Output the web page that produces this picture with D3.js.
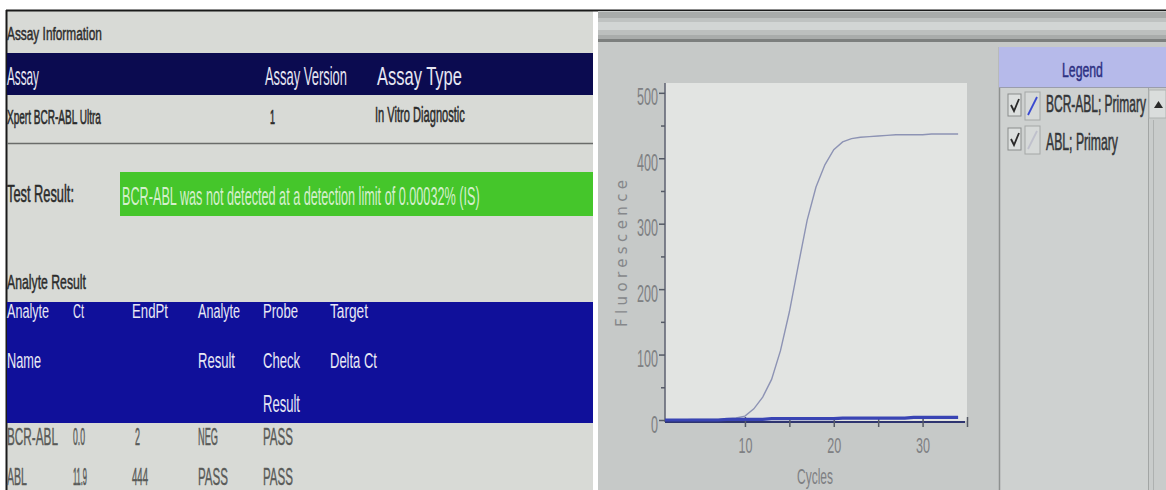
<!DOCTYPE html>
<html><head><meta charset="utf-8">
<script src="https://cdn.jsdelivr.net/npm/d3@7"></script>
<style>
html,body{margin:0;padding:0;background:#fff;}
svg{display:block;}
</style></head>
<body>
<svg id="c" width="1166" height="490"></svg>
<script>
// ---------- data ----------
const assayHeaders = ["Assay", "Assay Version", "Assay Type"];
const assayRow = ["Xpert BCR-ABL Ultra", "1", "In Vitro Diagnostic"];
const testResultText = "BCR-ABL was not detected at a detection limit of 0.00032% (IS)";
const analyteHeaders = [["Analyte","Name"],["Ct"],["EndPt"],["Analyte","Result"],["Probe","Check","Result"],["Target","Delta Ct"]];
const analyteRows = [
  ["BCR-ABL","0.0","2","NEG","PASS"],
  ["ABL","11.9","444","PASS","PASS"]
];
const cycles = [1,2,3,4,5,6,7,8,9,10,11,12,13,14,15,16,17,18,19,20,21,22,23,24,25,26,27,28,29,30,31,32,33,34];
const ablValues = [0,0,0,1,1,1,1,2,3,6,17,35,62,106,165,236,305,356,390,413,425,430,432,433,434,435,436,436,436,436,437,437,437,437];
const bcrAblValues = [0,0,0,0,0,0,0,1,1,1,1,1,2,2,2,2,2,2,2,2,3,3,3,3,3,3,3,3,4,4,4,4,4,4];
const yTicks = [0,100,200,300,400,500];
const yMinorTicks = [50,150,250,350,450];
const xTicks = [10,20,30];
const xMinorTicks = [15,25,35];
const legendLabels = ["BCR-ABL; Primary", "ABL; Primary"];
const seriesColors = ["#3944b4", "#8d93b4"];

// ---------- helpers ----------
const svg = d3.select("#c");
const NARROW = "'Liberation Sans Narrow','Liberation Sans',Arial,sans-serif";
function fit(t, width, size){
  t.attr("font-size", 20);
  const w = t.node().getComputedTextLength() || 1;
  const fs = 20 * width / w;
  t.attr("font-size", fs);
  return size / fs;
}
function txt(g, s, x, y, size, width, color, thick){
  const t = g.append("text").text(s)
    .attr("font-family", NARROW).attr("fill", color);
  const k = fit(t, width, size);
  t.attr("transform", `translate(${x},${y}) scale(1,${k})`);
  if (thick) t.attr("stroke", color).attr("stroke-width", thick);
  return t;
}

// ---------- left panel ----------
const L = svg.append("g");
L.append("rect").attr("x",0).attr("y",0).attr("width",1166).attr("height",490).attr("fill","#ffffff");
L.append("rect").attr("x",7).attr("y",11).attr("width",586).attr("height",479).attr("fill","#d8dad6");
L.append("line").attr("x1",6).attr("x2",1166).attr("y1",10.5).attr("y2",10.5).attr("stroke","#1a1a1a").attr("stroke-width",2);
L.append("line").attr("x1",6.5).attr("x2",6.5).attr("y1",10).attr("y2",490).attr("stroke","#1a1a1a").attr("stroke-width",2);

txt(L, "Assay Information", 7, 40, 19, 95, "#2b2b2b", 0.3);
L.append("rect").attr("x",7).attr("y",53).attr("width",586).attr("height",42).attr("fill","#0b0b50");
const assayX = [7, 265, 377], assayHW = [32, 82, 85];
assayHeaders.forEach((h,i)=> txt(L, h, assayX[i], 85, 26, assayHW[i], "#e6e6f2"));
txt(L, assayRow[0], 7, 124, 21, 94, "#2a2a2a", 0.3);
txt(L, assayRow[1], 270, 124, 21, 5, "#2a2a2a", 0.3);
txt(L, assayRow[2], 375, 122, 22, 90, "#2a2a2a", 0.3);
L.append("line").attr("x1",7).attr("x2",593).attr("y1",143.5).attr("y2",143.5).attr("stroke","#6a6c6a").attr("stroke-width",1.5);

txt(L, "Test Result:", 7, 202, 23, 67, "#2b2b2b", 0.3);
L.append("rect").attr("x",120).attr("y",172).attr("width",473).attr("height",44).attr("fill","#45c62b");
txt(L, testResultText, 122, 205, 25, 358, "#d4efcc");

txt(L, "Analyte Result", 7, 289, 20, 79, "#2b2b2b", 0.3);
L.append("rect").attr("x",7).attr("y",302).attr("width",586).attr("height",121).attr("fill","#10109a");
const colX = [7, 73, 132, 198, 263, 330];
const hdrW = {"Analyte":42,"Name":34,"Ct":11,"EndPt":36,"Result":37,"Probe":35,"Check":37,"Target":38,"Delta Ct":47};
const lineY = [318, 368, 412], lineSize = [20, 22, 24];
analyteHeaders.forEach((lines,i)=>{
  lines.forEach((s,j)=> txt(L, s, colX[i], lineY[j], lineSize[j], hdrW[s], "#e8e8f4"));
});
const rowY = [445, 485], rowSize = [23, 24];
const cellW = {"BCR-ABL":51,"0.0":12,"2":5,"NEG":20,"PASS":30,"ABL":20,"11.9":14,"444":16};
analyteRows.forEach((r,ri)=>{
  r.forEach((s,ci)=> txt(L, s, colX[ci] + (s==="2"?3:0), rowY[ri], rowSize[ri], cellW[s], "#585a58", 0.2));
});

// ---------- right panel ----------
const R = svg.append("g");
R.append("rect").attr("x",598).attr("y",11).attr("width",568).attr("height",479).attr("fill","#c6c9c8");
const strip = [["#a8abaa",12,6],["#bfc2c1",18,4],["#d2d5d4",22,8],["#bcbfbe",30,5],["#a9acab",35,4]];
strip.forEach(s=> R.append("rect").attr("x",598).attr("y",s[1]).attr("width",568).attr("height",s[2]).attr("fill",s[0]));
R.append("rect").attr("x",598).attr("y",39).attr("width",568).attr("height",3).attr("fill","#7c7f7e");

const x = d3.scaleLinear().domain([1,35]).range([665,967]);
const y = d3.scaleLinear().domain([0,515]).range([420,83]);
R.append("rect").attr("x",665).attr("y",83).attr("width",302).attr("height",338).attr("fill","#e2e4e2");

// y axis
const yAxis = R.append("g").attr("transform","translate(665,0)")
  .call(d3.axisLeft(y).tickValues(yTicks).tickSize(6).tickFormat(d3.format("d")));
R.append("g").attr("transform","translate(665,0)")
  .call(d3.axisLeft(y).tickValues(yMinorTicks).tickSize(4).tickFormat(""))
  .call(g=>g.select(".domain").remove());
yAxis.select(".domain").attr("d","M0,83V422").attr("stroke","#5c6070").attr("stroke-width",1.5);
R.selectAll(".tick line").attr("stroke","#555a66").attr("stroke-width",1.5);
yAxis.selectAll(".tick text").each(function(d){
  const t = d3.select(this).attr("x",null).attr("y",null).attr("dy",null)
    .attr("font-family",NARROW).attr("fill","#7e8083");
  const k = fit(t, String(d).length*7, 24);
  t.attr("transform",`translate(-7,12) scale(1,${k})`);
});

// x axis
const xAxis = R.append("g").attr("transform","translate(0,422)")
  .call(d3.axisBottom(x).tickValues(xTicks).tickSize(4).tickFormat(d3.format("d")));
xAxis.select(".domain").attr("d","M665,0H965").attr("stroke","#2e3470").attr("stroke-width",1.8);
xAxis.selectAll(".tick line").attr("y1",-5).attr("y2",5).attr("stroke","#555a66").attr("stroke-width",1.5);
R.append("g").attr("transform","translate(0,422)")
  .call(d3.axisBottom(x).tickValues(xMinorTicks).tickSize(4).tickFormat(""))
  .call(g=>g.select(".domain").remove())
  .call(g=>g.selectAll(".tick line").attr("y1",-5).attr("y2",5).attr("stroke","#555a66").attr("stroke-width",1.5));
xAxis.selectAll(".tick text").each(function(d){
  const t = d3.select(this).attr("x",null).attr("y",null).attr("dy",null)
    .attr("font-family",NARROW).attr("fill","#7e8083");
  const k = fit(t, String(d).length*7, 22);
  t.attr("transform",`translate(0,31) scale(1,${k})`);
});

txt(R, "Cycles", 797, 484, 22, 36, "#7e8083");
const fl = R.append("text").attr("transform","translate(627,327) rotate(-90)")
  .attr("font-family","'DejaVu Sans',sans-serif").attr("font-size",15).attr("fill","#85878a")
  .text("Fluorescence");
{
  const w = fl.node().getComputedTextLength();
  fl.attr("letter-spacing", (147 - w) / 11);
}

// series
const line = d3.line().x((d,i)=>x(cycles[i])).y(d=>y(d));
R.append("path").datum(ablValues).attr("d",line).attr("fill","none")
  .attr("stroke",seriesColors[1]).attr("stroke-width",1.4);
R.append("path").datum(bcrAblValues).attr("d",line).attr("fill","none")
  .attr("stroke",seriesColors[0]).attr("stroke-width",3.2);

// legend panel
R.append("rect").attr("x",999).attr("y",47).attr("width",167).attr("height",443).attr("fill","#ced1d0");
R.append("line").attr("x1",999.5).attr("x2",999.5).attr("y1",47).attr("y2",490).attr("stroke","#8e9190").attr("stroke-width",1.5);
R.append("rect").attr("x",999).attr("y",47).attr("width",167).attr("height",40).attr("fill","#b6baea");
R.append("line").attr("x1",999).attr("x2",1166).attr("y1",87.5).attr("y2",87.5).attr("stroke","#9a9dac");
txt(R, "Legend", 1062, 77, 20, 41, "#2c3082", 0.3);
R.append("rect").attr("x",1148).attr("y",88).attr("width",18).attr("height",402).attr("fill","#c9cccb");
R.append("line").attr("x1",1148.5).attr("x2",1148.5).attr("y1",88).attr("y2",490).attr("stroke","#a2a5a4");
R.append("line").attr("x1",1153.5).attr("x2",1153.5).attr("y1",120).attr("y2",490).attr("stroke","#aeb1b0");
R.append("rect").attr("x",1149).attr("y",90).attr("width",17).attr("height",28).attr("fill","#dadddc").attr("stroke","#b0b3b2");
R.append("path").attr("d","M1154,108L1158.5,101L1163,108Z").attr("fill","#2a2a2a");

legendLabels.forEach((s,i)=>{
  const top = i===0 ? 93 : 127;
  const g = R.append("g");
  g.append("rect").attr("x",1008).attr("y",top+1).attr("width",13).attr("height",22)
    .attr("fill","#dcdfde").attr("stroke","#8a8d8c");
  g.append("path").attr("d",`M1011,${top+12}L1014,${top+18}L1019,${top+6}`).attr("fill","none")
    .attr("stroke","#2a2a2a").attr("stroke-width",1.8);
  g.append("rect").attr("x",1025).attr("y",top-1).attr("width",15).attr("height",28)
    .attr("fill","#d6d9d8").attr("stroke","#a4a7a6");
  g.append("line").attr("x1",1028).attr("y1",top+22).attr("x2",1037).attr("y2",top+4)
    .attr("stroke", i===0 ? "#3a4ad0" : "#bfc0cc").attr("stroke-width",1.8);
  txt(g, s, 1046, i===0?112:150, 23, i===0?100:72, "#333538", 0.3);
});
</script>
</body></html>
